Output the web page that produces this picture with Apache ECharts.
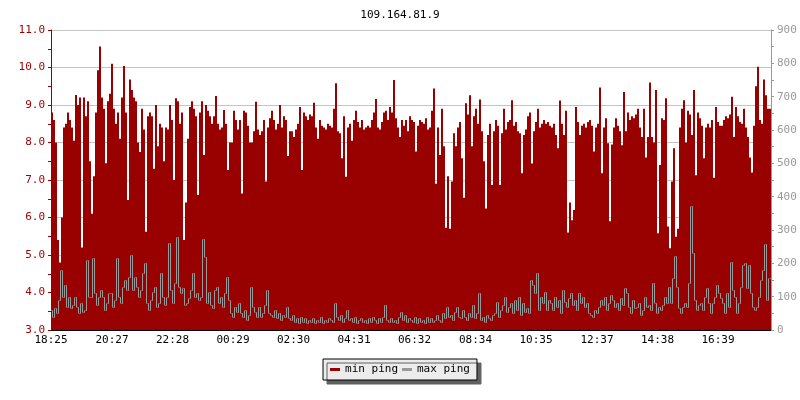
<!DOCTYPE html>
<html>
<head>
<meta charset="utf-8">
<script src="https://cdn.jsdelivr.net/npm/echarts@6/dist/echarts.min.js"></script>
<style>
html,body{margin:0;padding:0;background:#fff;}
#chart{width:800px;height:400px;}
</style>
</head>
<body>
<div id="chart"></div>
<script>
// ---- data ----
var titleText = '109.164.81.9';
var stepMinutes = 4;               // one sample every 4 minutes, 24 h span
var spanMinutes = 1440;
var tickMinutes = [0, 122, 243, 364, 485, 606, 727, 849, 970, 1092, 1213, 1334];
var tickLabels = ['18:25','20:27','22:28','00:29','02:30','04:31','06:32','08:34','10:35','12:37','14:38','16:39'];

var minPing = [
 8.8,8.6,8.0,5.4,4.8,6.0,8.4,8.5,8.8,8.6,
 8.4,8.05,9.27,9.0,9.2,5.2,9.2,8.7,9.1,7.5,
 6.1,7.1,8.8,9.93,10.56,9.2,8.9,7.45,9.1,9.3,
 10.1,8.9,8.5,8.8,8.1,9.2,10.04,8.8,6.47,9.68,
 9.4,9.2,9.1,8.0,7.75,8.9,8.35,5.62,8.7,8.8,
 8.7,7.3,9.0,7.9,8.5,8.4,7.5,8.4,8.35,9.0,
 8.6,7.0,9.18,9.1,8.5,8.8,5.4,6.4,8.1,8.95,
 9.1,8.9,8.7,6.6,8.8,9.1,7.67,9.0,8.85,8.7,
 8.5,8.7,9.24,8.5,8.35,8.4,8.87,8.5,7.27,8.0,
 8.0,8.85,8.6,8.35,8.6,6.64,8.85,8.8,8.45,8.0,
 8.0,8.3,9.09,8.35,8.2,8.3,8.6,6.96,8.4,8.65,
 8.85,8.6,8.35,8.5,9.0,8.4,8.7,8.6,7.64,8.3,
 8.3,8.15,8.35,8.5,8.95,7.27,8.8,8.7,8.6,8.75,
 8.7,9.06,8.4,8.1,8.6,8.45,8.4,8.35,8.5,8.45,
 8.4,8.9,9.58,8.3,8.25,7.58,8.7,7.09,8.4,8.5,
 8.05,8.6,8.85,8.55,8.4,8.6,8.35,8.4,8.45,8.4,
 8.6,8.8,9.16,8.4,8.35,8.55,8.8,8.85,8.6,8.95,
 8.8,9.67,8.65,8.4,8.15,8.6,8.45,8.6,8.3,8.7,
 8.6,8.55,7.76,8.45,8.6,8.55,8.5,8.65,8.35,8.4,
 8.85,9.44,6.9,8.4,7.67,8.9,7.9,5.73,7.1,5.7,
 6.96,8.25,7.9,8.4,8.55,7.58,6.53,9.05,8.75,9.26,
 7.9,8.7,8.9,8.5,9.15,8.3,7.5,6.24,8.2,8.5,
 6.87,8.3,8.6,8.45,6.87,8.25,8.9,8.35,8.55,8.6,
 9.13,8.45,8.55,8.3,8.25,7.18,8.2,8.35,8.7,8.8,
 7.44,8.3,8.55,8.9,8.4,8.5,8.6,8.5,8.55,8.45,
 8.4,8.5,8.2,7.85,9.12,8.5,8.2,8.85,5.6,6.4,
 5.93,6.2,8.95,8.55,8.2,8.45,8.5,8.4,8.55,8.6,
 8.45,7.76,8.4,8.5,9.47,7.18,8.4,8.65,7.98,5.9,
 7.95,8.4,8.65,8.45,8.3,7.93,9.35,8.3,8.8,8.6,
 8.7,8.65,8.75,8.9,8.4,8.15,8.9,7.6,8.15,9.6,
 8.15,8.0,9.4,5.58,7.4,8.65,8.6,9.18,5.76,5.18,
 6.96,7.85,5.49,5.7,8.4,8.9,9.13,8.0,8.85,8.75,
 8.2,9.4,7.13,8.8,8.65,8.45,7.58,8.4,8.5,8.4,
 8.6,7.06,8.95,8.55,8.45,8.45,8.6,8.7,8.65,8.75,
 9.22,8.15,8.95,8.7,8.55,8.5,8.9,8.4,8.15,7.6,
 7.2,8.45,9.5,10.02,8.6,8.5,9.68,9.26,8.9,8.9
];

var maxPing = [
 60,40,65,50,90,180,100,135,70,100,
 65,75,100,70,50,80,55,60,210,100,
 100,215,110,75,100,120,100,60,80,110,
 110,70,90,215,100,80,130,150,120,160,
 225,120,160,130,100,120,170,200,80,60,
 90,115,130,70,80,170,100,75,100,260,
 120,80,140,278,130,110,125,75,80,95,
 120,170,100,110,90,100,272,220,80,115,
 75,65,120,130,80,100,70,110,160,90,
 50,40,70,55,80,50,40,60,30,45,
 130,70,55,40,70,40,50,75,120,50,
 45,40,60,35,50,30,45,40,70,35,
 30,45,25,35,20,40,25,35,20,30,
 25,35,20,30,25,40,20,30,25,35,
 30,25,80,40,30,45,25,35,60,30,
 35,25,40,20,30,35,25,30,20,35,
 25,40,30,20,35,25,40,75,30,25,
 35,25,30,20,40,55,30,45,25,35,
 30,25,40,20,35,25,30,20,40,25,
 35,25,30,45,30,25,50,35,70,40,
 45,30,55,70,40,35,60,40,30,50,
 40,75,35,50,110,30,40,25,45,35,
 30,45,50,85,40,60,75,100,55,70,
 80,50,90,60,100,45,80,55,65,50,
 150,135,110,170,60,100,80,115,60,90,
 80,60,100,70,90,50,120,85,70,95,
 110,75,90,60,110,80,100,70,80,50,
 45,40,60,50,70,90,75,100,60,80,
 105,90,70,80,60,95,75,125,110,70,
 50,90,65,70,80,45,60,100,70,75,
 60,140,80,50,70,60,75,100,80,130,
 80,155,222,130,65,50,70,80,70,140,
 373,232,90,60,75,80,60,100,125,80,
 50,80,100,135,110,95,80,50,110,70,
 205,120,100,50,80,130,195,200,125,195,
 110,70,60,70,100,150,180,258,90,156
];

// ---- build series data (time in minutes from start) ----
var minData = minPing.map(function(v,i){ return [i*stepMinutes, v]; });
var maxData = maxPing.map(function(v,i){
  var nxt = i < maxPing.length-1 ? maxPing[i+1] : v;
  return [i*stepMinutes, v, nxt];
});

var RED = '#990000', GREY = '#999999';
var FONT = 'DejaVu Sans Mono';
var Y_MIN = 3;

function renderMin(params, api){
  var t = api.value(0), v = api.value(1);
  var p0 = api.coord([t, v]);
  var p1 = api.coord([t + stepMinutes, Y_MIN]);
  return {type:'rect', shape:{x:p0[0], y:p0[1], width:p1[0]-p0[0], height:p1[1]-p0[1]},
          style:{fill:RED}};
}
function renderMax(params, api){
  var t = api.value(0), v = api.value(1), vn = api.value(2);
  var a = api.coord([t, v]);
  var b = api.coord([t + stepMinutes, vn]);
  var y0 = Math.round(a[1]) + 0.5, y1 = Math.round(b[1]) + 0.5;
  var xa = Math.round(a[0]) + 0.5, xb = Math.round(b[0]) - 0.5;
  return {type:'polyline', shape:{points:[[xa,y0],[xb,y0],[xb,y1]]},
          style:{stroke:GREY, lineWidth:1, fill:null}};
}

var chart = echarts.init(document.getElementById('chart'), null, {renderer:'canvas'});
chart.setOption({
  animation:false,
  backgroundColor:'#ffffff',
  title:{text:titleText, left:'center', top:5,
    textStyle:{fontFamily:FONT, fontSize:11, fontWeight:'normal', color:'#000'}},
  legend:{
    data:['min ping','max ping'], left:'center', top:359,
    icon:'rect', itemWidth:10, itemHeight:3, itemGap:4,
    padding:[5,7], backgroundColor:'#ececec', borderColor:'#000', borderWidth:1,
    shadowColor:'#606060', shadowOffsetX:4, shadowOffsetY:4, shadowBlur:0,
    textStyle:{fontFamily:FONT, fontSize:11, color:'#000'}
  },
  grid:{left:51, right:29, top:30, bottom:70, containLabel:false},
  xAxis:{
    type:'value', min:0, max:spanMinutes,
    axisLine:{show:true, lineStyle:{color:'#000', width:1}},
    axisTick:{show:true, inside:true, length:4, customValues:tickMinutes, lineStyle:{color:'#000'}},
    axisLabel:{customValues:tickMinutes, margin:5, color:'#000', fontFamily:FONT, fontSize:11,
      formatter:function(v){ var k = tickMinutes.indexOf(v); return k>=0 ? tickLabels[k] : ''; }},
    splitLine:{show:false}
  },
  yAxis:[{
    type:'value', min:Y_MIN, max:11, interval:1, position:'left',
    axisLine:{show:true, lineStyle:{color:RED}},
    axisTick:{show:true, length:3, lineStyle:{color:RED}},
    minorTick:{show:true, splitNumber:2, length:3, lineStyle:{color:RED}},
    axisLabel:{color:RED, fontFamily:FONT, fontSize:11, margin:6,
      formatter:function(v){return v.toFixed(1);}},
    splitLine:{show:true, lineStyle:{color:'#c4c4c4', width:1}}
  },{
    type:'value', min:0, max:900, interval:100, position:'right',
    axisLine:{show:true, lineStyle:{color:GREY}},
    axisTick:{show:true, length:3, lineStyle:{color:GREY}},
    minorTick:{show:true, splitNumber:2, length:3, lineStyle:{color:GREY}},
    axisLabel:{color:GREY, fontFamily:FONT, fontSize:11, margin:6},
    splitLine:{show:false}
  }],
  series:[{
    name:'min ping', type:'custom', yAxisIndex:0, renderItem:renderMin,
    data:minData, itemStyle:{color:RED}, encode:{x:0, y:1}, clip:true, z:2
  },{
    name:'max ping', type:'custom', yAxisIndex:1, renderItem:renderMax,
    data:maxData, itemStyle:{color:GREY}, encode:{x:0, y:1}, clip:true, z:3
  }]
});
</script>
</body>
</html>
